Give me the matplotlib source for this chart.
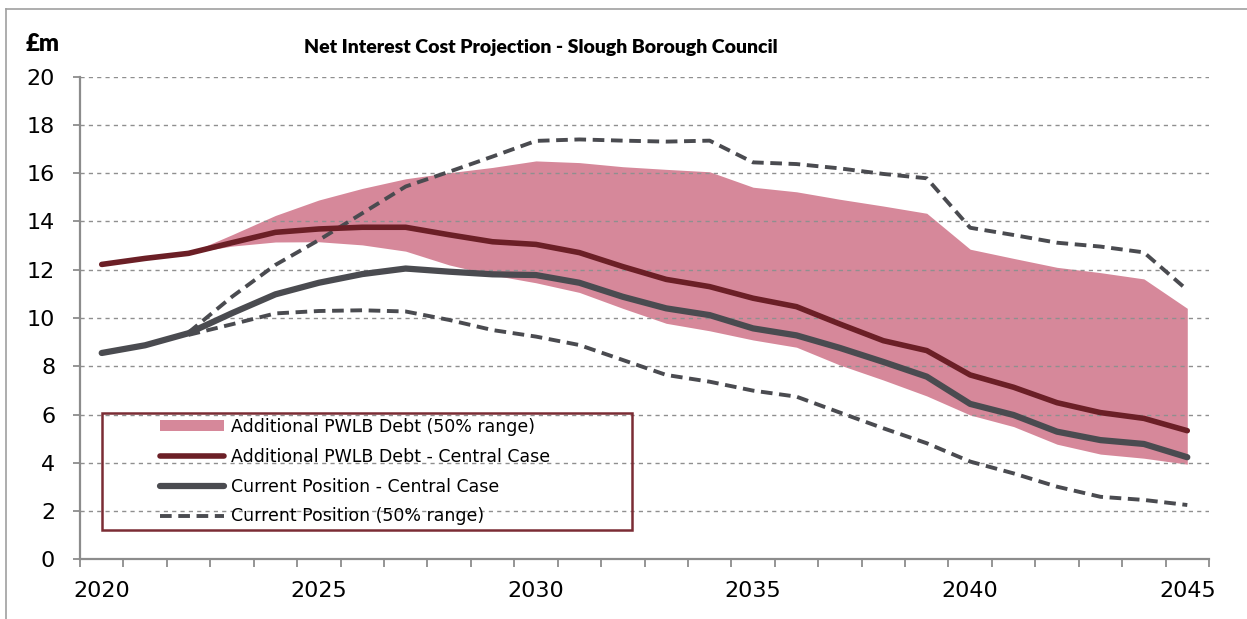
#
# Net interest cost projection - Slough Borough Council
#
import numpy as np
import matplotlib
matplotlib.use("Agg")
import matplotlib.pyplot as plt
from matplotlib.patches import Patch, Rectangle
from matplotlib.lines import Line2D

nan = np.nan

#
# Data (£m)
#
years = list(range(2020, 2046))
year_labels = ["2020", "2025", "2030", "2035", "2040", "2045"]

pwlb_central = [12.22, 12.47, 12.68, 13.12, 13.55, 13.69, 13.76, 13.76, 13.45, 13.16,
                13.05, 12.71, 12.13, 11.60, 11.30, 10.82, 10.47, 9.75, 9.06, 8.65,
                7.64, 7.13, 6.49, 6.08, 5.84, 5.33]
pwlb_upper = [nan, nan, 12.68, 13.45, 14.25, 14.89, 15.37, 15.77, 16.02, 16.24,
              16.51, 16.44, 16.27, 16.16, 16.06, 15.42, 15.23, 14.92, 14.64, 14.34,
              12.85, 12.47, 12.10, 11.88, 11.62, 10.40]
pwlb_lower = [nan, nan, 12.68, 12.98, 13.15, 13.16, 13.03, 12.77, 12.20, 11.78,
              11.46, 11.06, 10.40, 9.78, 9.47, 9.09, 8.79, 8.05, 7.43, 6.77,
              5.98, 5.50, 4.77, 4.36, 4.19, 3.94]

current_central = [8.55, 8.87, 9.37, 10.20, 10.98, 11.46, 11.82, 12.05, 11.92, 11.81,
                   11.78, 11.46, 10.88, 10.40, 10.12, 9.57, 9.28, 8.76, 8.18, 7.57,
                   6.44, 5.98, 5.29, 4.94, 4.78, 4.23]
current_upper = [nan, nan, 9.40, 10.88, 12.20, 13.23, 14.34, 15.45, 16.06, 16.69,
                 17.34, 17.40, 17.35, 17.31, 17.35, 16.45, 16.38, 16.20, 15.97, 15.79,
                 13.74, 13.44, 13.12, 12.96, 12.72, 11.16]
current_lower = [nan, nan, 9.30, 9.74, 10.19, 10.29, 10.32, 10.27, 9.92, 9.50,
                 9.23, 8.88, 8.26, 7.64, 7.36, 6.99, 6.74, 6.08, 5.43, 4.81,
                 4.05, 3.56, 3.01, 2.59, 2.46, 2.25]

#
# Styles
#
PINK = "#d6889a"
DARKRED = "#6b1f26"
GREY = "#4a4b50"
BOXRED = "#7b2c34"
AXGREY = "#8c8c8c"
DASH = (0, (3.0, 1.7))
W, H = 1247, 619

plt.rcParams["font.family"] = ["DejaVu Sans"]

fig = plt.figure(figsize=(W / 100, H / 100), dpi=100)
ax = fig.add_axes([80 / W, 1 - 559.3 / H, (1209 - 80) / W, (559.3 - 76.7) / H])

x = np.arange(len(years))

# shaded range and lines
ax.fill_between(x, pwlb_lower, pwlb_upper, color=PINK, lw=0, zorder=1)
ax.plot(x, current_upper, color=GREY, lw=2.8, ls=DASH, zorder=4)
ax.plot(x, current_lower, color=GREY, lw=2.8, ls=DASH, zorder=4)
ax.plot(x, current_central, color=GREY, lw=4.5, solid_capstyle="round", zorder=5)
ax.plot(x, pwlb_central, color=DARKRED, lw=4.0, solid_capstyle="round", zorder=6)

# axes
ax.set_xlim(-0.5, len(years) - 0.5)
ax.set_ylim(0, 20)
ax.set_yticks(np.arange(0, 21, 2))
ax.set_xticks(np.arange(-0.5, len(years), 1))
ax.set_xticklabels([])
label_pos = [years.index(int(s)) for s in year_labels]
for p, s in zip(label_pos, year_labels):
    ax.text(p, -0.9, s, ha="center", va="top", fontsize=16)

ax.tick_params(axis="x", length=5.4, width=1.3, color=AXGREY)
ax.tick_params(axis="y", length=5.4, width=1.3, color=AXGREY, labelsize=16, pad=12.5)
for s in ["top", "right"]:
    ax.spines[s].set_visible(False)
for s in ["left", "bottom"]:
    ax.spines[s].set_color(AXGREY)
    ax.spines[s].set_linewidth(1.6)

ax.set_axisbelow(False)
ax.yaxis.grid(True, color="#8f8f8f", lw=1.0, ls=(0, (3, 3)), zorder=2)
for gl in ax.yaxis.get_gridlines():
    gl.set_zorder(2)

# titles
fig.text(541 / W, 1 - 47 / H, "Net Interest Cost Projection - Slough Borough Council",
         ha="center", va="center", fontsize=14, fontweight="heavy", family=["Lato", "DejaVu Sans"])
fig.text(26 / W, 1 - 44 / H, "£m", ha="left", va="center", fontsize=17,
         fontweight="heavy", family=["Lato", "DejaVu Sans"])

# legend frame + legend
fig.add_artist(Rectangle((102 / W, 1 - 530 / H), (632 - 102) / W, (530 - 412.5) / H,
                         transform=fig.transFigure, fill=False, ec=BOXRED, lw=1.8, zorder=10))
handles = [
    Patch(facecolor=PINK, edgecolor="none"),
    Line2D([], [], color=DARKRED, lw=4.0, solid_capstyle="round"),
    Line2D([], [], color=GREY, lw=4.5, solid_capstyle="round"),
    Line2D([], [], color=GREY, lw=2.8, ls=DASH),
]
labels = ["Additional PWLB Debt (50% range)", "Additional PWLB Debt - Central Case",
          "Current Position - Central Case", "Current Position (50% range)"]
leg = fig.legend(handles, labels, loc="upper left", bbox_to_anchor=(160 / W, 1 - 418 / H),
                 frameon=False, fontsize=12.5, handlelength=3.7, handleheight=0.6,
                 handletextpad=0.4, labelspacing=0.68, borderpad=0, borderaxespad=0)
leg.set_zorder(11)

# outer border of the chart area
fig.add_artist(Line2D([6 / W, 6 / W], [0, 1 - 9 / H], transform=fig.transFigure,
                      color="#a0a0a0", lw=1.2))
fig.add_artist(Line2D([6 / W, 1], [1 - 9 / H, 1 - 9 / H], transform=fig.transFigure,
                      color="#a0a0a0", lw=1.2))

fig.savefig("out.png", dpi=100)
